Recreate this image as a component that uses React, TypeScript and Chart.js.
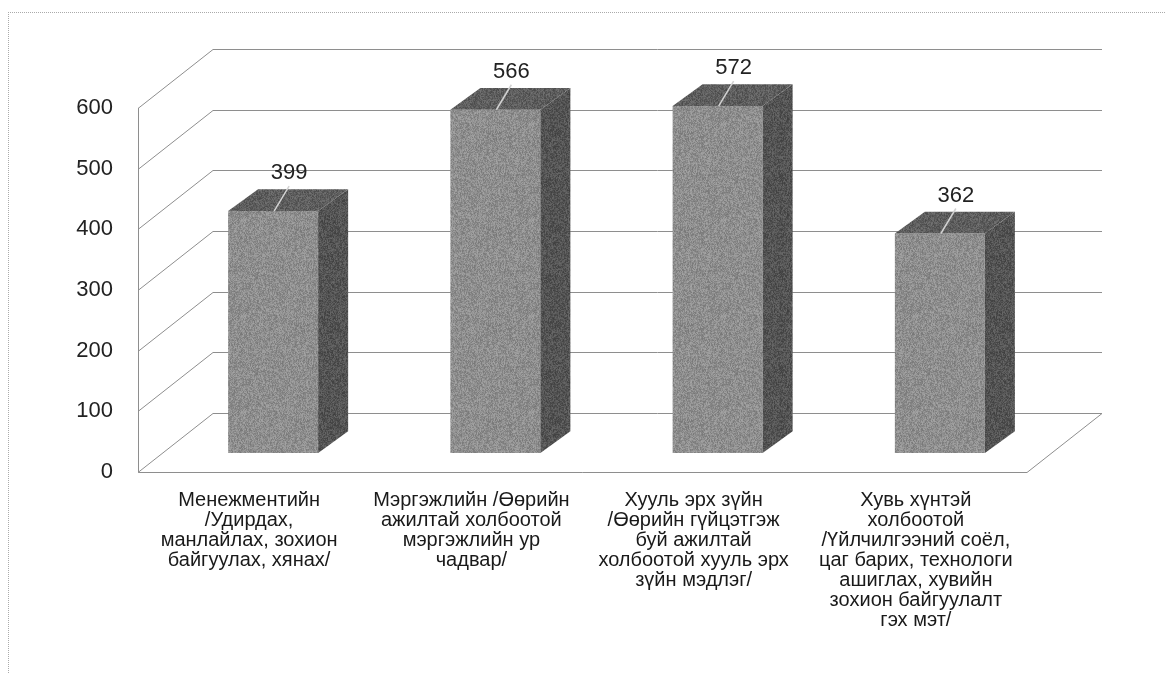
import React, { useEffect, useRef } from "react";
import { Chart, registerables } from "chart.js";

Chart.register(...registerables);

// ---- data ----
const categoryLabels: string[][] = [
  ["Менежментийн", "/Удирдах,", "манлайлах, зохион", "байгуулах, хянах/"],
  ["Мэргэжлийн /Өөрийн", "ажилтай холбоотой", "мэргэжлийн ур", "чадвар/"],
  ["Хууль эрх зүйн", "/Өөрийн гүйцэтгэж", "буй ажилтай", "холбоотой хууль эрх", "зүйн мэдлэг/"],
  ["Хувь хүнтэй", "холбоотой", "/Үйлчилгээний соёл,", "цаг барих, технологи", "ашиглах, хувийн", "зохион байгуулалт", "гэх мэт/"],
];
const values: number[] = [399, 566, 572, 362];
const yMin = 0;
const yMax = 600;
const yStep = 100;

// ---- style ----
const FONT = '"Liberation Sans", Arial, sans-serif';
const DEPTH_X = 75; // wall depth offset
const DEPTH_Y = 59;
const BAR_FRONT = 0.32; // bar front face position in depth
const BAR_DEPTH_X = 0.4;
const BAR_DEPTH_Y = 0.37;
const GRID_COLOR = "#8e8e8e";

function hash(x: number, y: number): number {
  let h = (Math.imul(x, 374761393) + Math.imul(y, 668265263)) | 0;
  h = Math.imul(h ^ (h >>> 13), 1274126177);
  h = h ^ (h >>> 16);
  return (h >>> 0) / 4294967295;
}

function makePattern(ctx: CanvasRenderingContext2D, base: number, amp: number, seed: number) {
  const c = document.createElement("canvas");
  c.width = 96;
  c.height = 96;
  const g = c.getContext("2d")!;
  const img = g.createImageData(96, 96);
  for (let y = 0; y < 96; y++) {
    for (let x = 0; x < 96; x++) {
      const v = Math.max(0, Math.min(255, Math.round(base + (hash(x + seed, y) - 0.5) * 2 * amp)));
      const i = (y * 96 + x) * 4;
      img.data[i] = v;
      img.data[i + 1] = v;
      img.data[i + 2] = v;
      img.data[i + 3] = 255;
    }
  }
  g.putImageData(img, 0, 0);
  return ctx.createPattern(c, "repeat")!;
}

export default function App() {
  const ref = useRef<HTMLCanvasElement | null>(null);

  useEffect(() => {
    const canvas = ref.current!;
    const ctx0 = canvas.getContext("2d")!;
    const frontPattern = makePattern(ctx0, 142, 24, 0);
    const sidePattern = makePattern(ctx0, 84, 22, 311);
    const topPattern = makePattern(ctx0, 94, 22, 733);

    const threeD = {
      id: "threeD",
      beforeDatasetsDraw(chart: any) {
        const { ctx, chartArea: a } = chart;
        const y = chart.scales.y;
        ctx.save();
        ctx.strokeStyle = GRID_COLOR;
        ctx.lineWidth = 1;
        y.ticks.forEach((t: any) => {
          const py = Math.round(y.getPixelForValue(t.value)) + 0.5;
          ctx.beginPath();
          ctx.moveTo(a.left, py);
          ctx.lineTo(a.left + DEPTH_X, py - DEPTH_Y);
          ctx.lineTo(a.right + DEPTH_X, py - DEPTH_Y);
          ctx.stroke();
        });
        const y0 = Math.round(y.getPixelForValue(yMin)) + 0.5;
        const yTop = y.getPixelForValue(yMax);
        ctx.beginPath();
        ctx.moveTo(a.left + 0.5, yTop);
        ctx.lineTo(a.left + 0.5, y0);
        ctx.lineTo(a.right, y0);
        ctx.lineTo(a.right + DEPTH_X, y0 - DEPTH_Y);
        ctx.stroke();
        ctx.restore();
        ctx.save();
        ctx.translate(DEPTH_X * BAR_FRONT, -DEPTH_Y * BAR_FRONT);
      },
      afterDatasetsDraw(chart: any) {
        const { ctx } = chart;
        const meta = chart.getDatasetMeta(0);
        const sx = DEPTH_X * BAR_DEPTH_X;
        const sy = DEPTH_Y * BAR_DEPTH_Y;
        meta.data.forEach((el: any, i: number) => {
          const { x, y, base, width } = el.getProps(["x", "y", "base", "width"], true);
          const l = x - width / 2;
          const r = x + width / 2;
          ctx.fillStyle = sidePattern;
          ctx.beginPath();
          ctx.moveTo(r, y);
          ctx.lineTo(r + sx, y - sy);
          ctx.lineTo(r + sx, base - sy);
          ctx.lineTo(r, base);
          ctx.closePath();
          ctx.fill();
          ctx.fillStyle = topPattern;
          ctx.beginPath();
          ctx.moveTo(l, y);
          ctx.lineTo(l + sx, y - sy);
          ctx.lineTo(r + sx, y - sy);
          ctx.lineTo(r, y);
          ctx.closePath();
          ctx.fill();

          // label with leader line
          const lx = x + 16;
          const ly = y - 38;
          ctx.strokeStyle = "#d2d2d2";
          ctx.lineWidth = 1.5;
          ctx.beginPath();
          ctx.moveTo(lx, ly + 13);
          ctx.lineTo(x + 1, y);
          ctx.stroke();
          ctx.fillStyle = "#222";
          ctx.font = `22px ${FONT}`;
          ctx.textAlign = "center";
          ctx.textBaseline = "middle";
          ctx.fillText(String(values[i]), lx, ly);
        });
        ctx.restore();
      },
    };

    const chart = new Chart(canvas, {
      type: "bar",
      data: {
        labels: categoryLabels,
        datasets: [
          {
            data: values,
            backgroundColor: frontPattern as any,
            borderWidth: 0,
            categoryPercentage: 1,
            barPercentage: 0.405,
            clip: false as any,
          },
        ],
      },
      options: {
        responsive: false,
        animation: false,
        layout: { padding: { top: 95, right: 138, left: 0, bottom: 0 } },
        plugins: { legend: { display: false }, tooltip: { enabled: false } },
        scales: {
          x: {
            grid: { display: false, drawTicks: false },
            border: { display: false },
            ticks: {
              font: { family: FONT, size: 20, lineHeight: 1 },
              color: "#1a1a1a",
              padding: 18,
              maxRotation: 0,
              minRotation: 0,
              autoSkip: false,
            },
            afterFit: (s: any) => {
              s.height = 201;
            },
          },
          y: {
            min: yMin,
            max: yMax,
            ticks: { stepSize: yStep, font: { family: FONT, size: 22 }, color: "#222", padding: 25 },
            grid: { display: false, drawTicks: false },
            border: { display: false },
            afterFit: (s: any) => {
              s.width = 129;
            },
          },
        },
      },
      plugins: [threeD],
    });
    return () => chart.destroy();
  }, []);

  return (
    <div
      style={{
        position: "absolute",
        left: 8,
        top: 12,
        width: 1156,
        height: 660,
        borderTop: "1px dotted #aaa",
        borderLeft: "1px dotted #aaa",
      }}
    >
      <canvas ref={ref} width={1156} height={660} style={{ display: "block" }} />
    </div>
  );
}
